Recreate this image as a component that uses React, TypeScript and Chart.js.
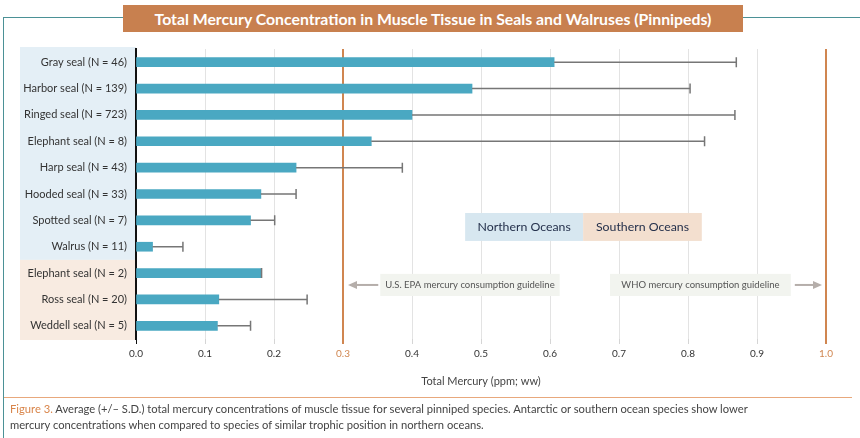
import React, { useEffect, useRef } from "react";
import { Chart, registerables } from "chart.js";

Chart.register(...registerables);

const species = [
  "Gray seal (N = 46)",
  "Harbor seal (N = 139)",
  "Ringed seal (N = 723)",
  "Elephant seal (N = 8)",
  "Harp seal (N = 43)",
  "Hooded seal (N = 33)",
  "Spotted seal (N = 7)",
  "Walrus (N = 11)",
  "Elephant seal (N = 2)",
  "Ross seal (N = 20)",
  "Weddell seal (N = 5)",
];
const meanHg = [0.606, 0.487, 0.4, 0.341, 0.232, 0.181, 0.166, 0.024, 0.181, 0.12, 0.118];
const sdHg = [0.264, 0.316, 0.468, 0.483, 0.154, 0.051, 0.035, 0.044, 0.001, 0.128, 0.048];
const northernCount = 8;
const epaGuideline = 0.3;
const whoGuideline = 1.0;
const oceanLegend = ["Northern Oceans", "Southern Oceans"];
const epaText = "U.S. EPA mercury consumption guideline";
const whoText = "WHO mercury consumption guideline";
const titleText = "Total Mercury Concentration in Muscle Tissue in Seals and Walruses (Pinnipeds)";
const xAxisTitle = "Total Mercury (ppm; ww)";

const ORANGE = "#d08650";
const FONT = "Lato, 'Open Sans', sans-serif";

const isGuide = (v: number) =>
  Math.abs(v - epaGuideline) < 1e-6 || Math.abs(v - whoGuideline) < 1e-6;

const panelPlugin = {
  id: "panels",
  beforeDraw(chart: any) {
    const { ctx, chartArea, scales } = chart;
    const y = scales.y;
    const split = y.getPixelForValue(northernCount - 0.5);
    ctx.save();
    ctx.fillStyle = "#e4eff6";
    ctx.fillRect(20, chartArea.top - 2, chartArea.left - 20, split - chartArea.top + 2);
    ctx.fillStyle = "#f8ebe1";
    ctx.fillRect(20, split, chartArea.left - 20, chartArea.bottom + 1 - split);
    ctx.restore();
  },
};

function arrow(ctx: CanvasRenderingContext2D, x1: number, x2: number, yy: number) {
  ctx.save();
  ctx.strokeStyle = "#b5aeaa";
  ctx.fillStyle = "#b5aeaa";
  ctx.lineWidth = 2;
  const dir = x2 > x1 ? 1 : -1;
  ctx.beginPath();
  ctx.moveTo(x1, yy);
  ctx.lineTo(x2 - dir * 6, yy);
  ctx.stroke();
  ctx.beginPath();
  ctx.moveTo(x2, yy);
  ctx.lineTo(x2 - dir * 9, yy - 4);
  ctx.lineTo(x2 - dir * 9, yy + 4);
  ctx.closePath();
  ctx.fill();
  ctx.restore();
}

const annotationPlugin = {
  id: "annotations",
  beforeDatasetsDraw(chart: any) {
    const { ctx, scales } = chart;
    const x = scales.x;
    const y = scales.y;
    const step = y.getPixelForValue(1) - y.getPixelForValue(0);
    ctx.save();
    // ocean legend
    const ly = y.getPixelForValue(6.25);
    const lh = step * 1.06;
    const lx0 = x.getPixelForValue(0.477);
    const lx1 = x.getPixelForValue(0.648);
    const lx2 = x.getPixelForValue(0.82);
    ctx.fillStyle = "#d7e7f0";
    ctx.fillRect(lx0, ly - lh / 2, lx1 - lx0, lh);
    ctx.fillStyle = "#f3dfcf";
    ctx.fillRect(lx1, ly - lh / 2, lx2 - lx1, lh);
    ctx.fillStyle = "#24304b";
    ctx.font = `12.3px ${FONT}`;
    ctx.textAlign = "center";
    ctx.textBaseline = "middle";
    ctx.fillText(oceanLegend[0], (lx0 + lx1) / 2, ly);
    ctx.fillText(oceanLegend[1], (lx1 + lx2) / 2, ly);

    // guideline notes
    const gy = y.getPixelForValue(8.45);
    const gh = step * 0.84;
    const ex0 = x.getPixelForValue(0.354);
    const ex1 = x.getPixelForValue(0.614);
    const wx0 = x.getPixelForValue(0.687);
    const wx1 = x.getPixelForValue(0.949);
    ctx.fillStyle = "#f2f4ef";
    ctx.fillRect(ex0, gy - gh / 2, ex1 - ex0, gh);
    ctx.fillRect(wx0, gy - gh / 2, wx1 - wx0, gh);
    ctx.fillStyle = "#555";
    ctx.font = `9.5px ${FONT}`;
    ctx.fillText(epaText, (ex0 + ex1) / 2, gy);
    ctx.fillText(whoText, (wx0 + wx1) / 2, gy);
    arrow(ctx, ex0 - 2, x.getPixelForValue(epaGuideline) + 5, gy);
    arrow(ctx, wx1 + 4, x.getPixelForValue(whoGuideline) - 4, gy);
    ctx.restore();
  },
};

const errorBarPlugin = {
  id: "errorBars",
  afterDatasetsDraw(chart: any) {
    const { ctx, scales } = chart;
    const x = scales.x;
    const y = scales.y;
    ctx.save();
    ctx.strokeStyle = "#767676";
    ctx.lineWidth = 1.5;
    meanHg.forEach((m, i) => {
      const yy = y.getPixelForValue(i);
      const xs = x.getPixelForValue(m);
      const xe = x.getPixelForValue(m + sdHg[i]);
      ctx.beginPath();
      ctx.moveTo(xs, yy);
      ctx.lineTo(xe, yy);
      ctx.moveTo(xe, yy - 5);
      ctx.lineTo(xe, yy + 5);
      ctx.stroke();
    });
    ctx.restore();
  },
};

export default function App() {
  const ref = useRef<HTMLCanvasElement | null>(null);
  useEffect(() => {
    if (!ref.current) return;
    const chart = new Chart(ref.current, {
      type: "bar",
      data: {
        labels: species,
        datasets: [
          {
            data: meanHg,
            backgroundColor: "#4aa8c2",
            barThickness: 9,
          },
        ],
      },
      options: {
        indexAxis: "y",
        responsive: false,
        animation: false,
        layout: { padding: { left: 0, right: 34, top: 49, bottom: 39 } },
        plugins: { legend: { display: false }, tooltip: { enabled: false } },
        scales: {
          x: {
            type: "linear",
            min: 0,
            max: 1,
            afterFit: (s: any) => {
              s.height = 60;
            },
            border: { display: false },
            grid: {
              color: (c: any) =>
                c.tick && c.tick.value === 0
                  ? "rgba(0,0,0,0)"
                  : isGuide(c.tick.value)
                  ? ORANGE
                  : "#e3e3e3",
              lineWidth: (c: any) => (c.tick && isGuide(c.tick.value) ? 2 : 1),
              tickColor: (c: any) =>
                c.tick && c.tick.value === 0 ? "#111" : isGuide(c.tick.value) ? ORANGE : "#d5d5d5",
              tickLength: 5,
            },
            ticks: {
              stepSize: 0.1,
              padding: 4,
              color: (c: any) => (isGuide(c.tick.value) ? ORANGE : "#333"),
              font: { family: FONT, size: 10 },
              callback: (v: any) => Number(v).toFixed(1),
            },
            title: {
              display: true,
              text: xAxisTitle,
              color: "#444",
              font: { family: FONT, size: 11 },
              padding: { top: 4, bottom: 11 },
            },
          },
          y: {
            z: 1,
            afterFit: (s: any) => {
              s.width = 136;
            },
            border: { display: true, color: "#111", width: 2 },
            grid: { display: false, drawTicks: false },
            ticks: {
              padding: 9,
              color: "#333",
              font: { family: FONT, size: 11 },
            },
          },
        },
      },
      plugins: [panelPlugin, annotationPlugin, errorBarPlugin],
    } as any);
    return () => chart.destroy();
  }, []);

  return (
    <div
      style={{
        position: "fixed",
        left: 0,
        top: 0,
        width: 860,
        height: 438,
        background: "#fff",
        overflow: "hidden",
        fontFamily: FONT,
      }}
    >
      <div
        style={{
          position: "absolute",
          left: 3,
          top: 17,
          width: 857,
          height: 421,
          borderLeft: "1.5px solid #4b9196",
          borderTop: "1.5px solid #4b9196",
          boxSizing: "border-box",
        }}
      />
      <div
        style={{
          position: "absolute",
          left: 123,
          top: 5,
          width: 620,
          height: 27,
          background: "#c8804f",
          color: "#fff",
          fontWeight: 700,
          fontSize: 15.8,
          lineHeight: "27px",
          textAlign: "center",
          whiteSpace: "nowrap",
        }}
      >
        {titleText}
      </div>
      <canvas
        ref={ref}
        width={860}
        height={438}
        style={{ position: "absolute", left: 0, top: 0, width: 860, height: 438 }}
      />
      <div
        style={{
          position: "absolute",
          left: 4,
          top: 397,
          width: 848,
          height: 1,
          background: "#e8a87c",
        }}
      />
      <div
        style={{
          position: "absolute",
          left: 10,
          top: 401,
          width: 845,
          fontSize: 11.2,
          lineHeight: "16px",
          color: "#444",
          whiteSpace: "nowrap",
        }}
      >
        <span style={{ color: "#d9854a" }}>Figure 3.</span> Average (+/– S.D.) total mercury
        concentrations of muscle tissue for several pinniped species. Antarctic or southern ocean
        species show lower
        <br />
        mercury concentrations when compared to species of similar trophic position in northern
        oceans.
      </div>
    </div>
  );
}
